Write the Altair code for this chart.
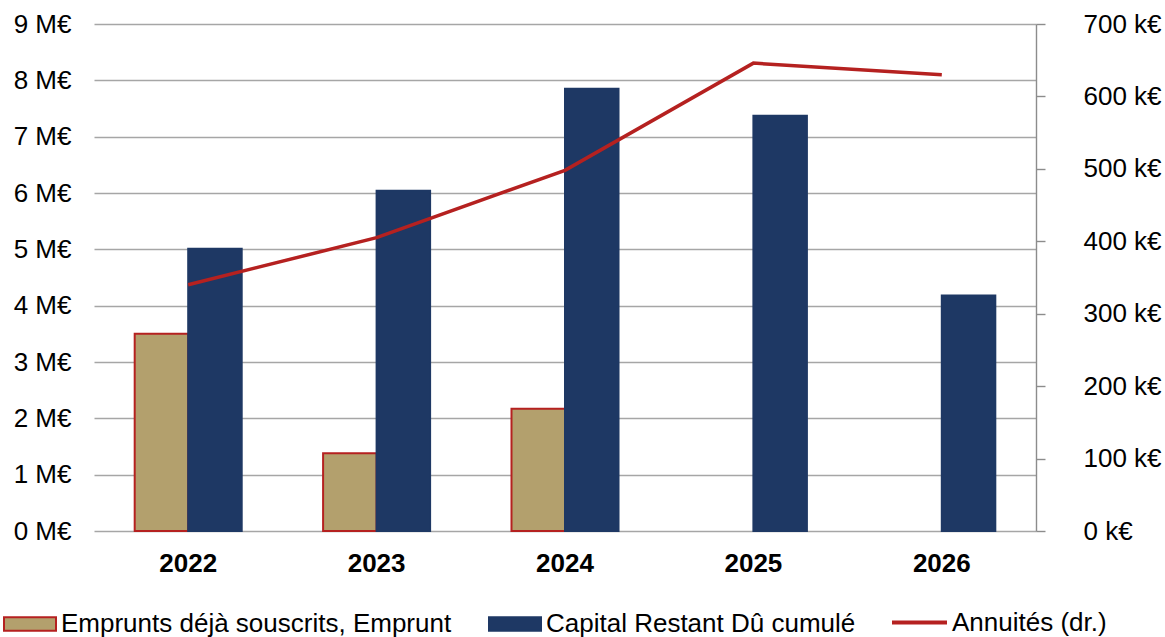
import altair as alt
import pandas as pd

annees = ["2022", "2023", "2024", "2025", "2026"]
emprunts = [3.50, 1.38, 2.17, None, None]          # M€
capital = [5.01, 6.04, 7.85, 7.37, 4.18]           # M€
annuites = [340, 405, 498, 646, 630]               # k€

s_emp = "Emprunts déjà souscrits, Emprunt"
s_cap = "Capital Restant Dû cumulé"
s_ann = "Annuités (dr.)"

rows = []
for a, e, c in zip(annees, emprunts, capital):
    if e is not None:
        rows.append({"annee": a, "serie": s_emp, "val": e})
    rows.append({"annee": a, "serie": s_cap, "val": c})
bars_df = pd.DataFrame(rows)
line_df = pd.DataFrame({"annee": annees, "serie_l": s_ann, "val": annuites})

FONT = "Liberation Sans"
GOLD = "#B3A06D"
BLUE = "#1E3864"
RED = "#B52120"
GRID = "#A6A6A6"

x_enc = alt.X("annee:N", sort=annees, title=None,
              scale=alt.Scale(domain=annees, paddingInner=0.432, paddingOuter=0.216),
              axis=alt.Axis(labelFontWeight="bold", labelFontSize=26, labelFont=FONT,
                            labelColor="black", labelAngle=0, ticks=False, tickSize=0,
                            domain=False, labelPadding=19, grid=False))

rect_path = "M-1,-0.264H1V0.264H-1Z"

bar_legend = dict(orient="none", legendX=-91, legendY=573, direction="horizontal",
                  symbolType=rect_path, symbolSize=2704, symbolStrokeWidth=2,
                  labelFont=FONT, labelFontSize=26, labelColor="black",
                  labelOffset=4, columnPadding=33, padding=0, labelLimit=600)

bars = alt.Chart(bars_df).mark_bar(strokeWidth=2).encode(
    x=x_enc,
    xOffset=alt.XOffset("serie:N", scale=alt.Scale(domain=[s_emp, s_cap], paddingInner=0, paddingOuter=0)),
    y=alt.Y("val:Q", title=None,
            scale=alt.Scale(domain=[0, 9], nice=False),
            axis=alt.Axis(values=list(range(10)), labelExpr="datum.value + ' M€'",
                          labelFont=FONT, labelFontSize=26, labelColor="black",
                          ticks=False, tickSize=0, domain=False, labelPadding=23,
                          grid=True, gridColor=GRID, gridWidth=1.4, orient="left")),
    fill=alt.Fill("serie:N", title=None,
                  scale=alt.Scale(domain=[s_emp, s_cap], range=[GOLD, BLUE]),
                  legend=alt.Legend(**bar_legend)),
    stroke=alt.Stroke("serie:N", title=None,
                      scale=alt.Scale(domain=[s_emp, s_cap], range=[RED, BLUE]),
                      legend=alt.Legend(**bar_legend)),
)

line = alt.Chart(line_df).mark_line(strokeWidth=3.5).encode(
    x=alt.X("annee:N", sort=annees),
    y=alt.Y("val:Q", title=None,
            scale=alt.Scale(domain=[0, 700], nice=False),
            axis=alt.Axis(orient="right", values=list(range(0, 701, 100)),
                          labelExpr="datum.value + ' k€'", labelFont=FONT, labelFontSize=26,
                          labelColor="black", grid=False, domain=True, domainColor="#8C8C8C",
                          domainWidth=1.4, ticks=True, tickColor="#8C8C8C", tickWidth=1.4,
                          tickSize=9, labelPadding=38)),
    color=alt.Color("serie_l:N", title=None,
                    scale=alt.Scale(domain=[s_ann], range=[RED]),
                    legend=alt.Legend(orient="none", legendX=796, legendY=569,
                                      symbolType="stroke", symbolSize=3025, symbolStrokeWidth=4,
                                      labelFont=FONT, labelFontSize=26, labelColor="black",
                                      labelOffset=3, padding=0, labelLimit=600)),
)

chart = alt.layer(bars, line).resolve_scale(y="independent").properties(
    width=942, height=507,
    autosize=alt.AutoSizeParams(type="none"),
    padding={"left": 94, "top": 24, "right": 129, "bottom": 106},
    background="white",
).configure_view(strokeWidth=0)

chart.save("out.html", embed_options={"renderer": "svg", "actions": False})
